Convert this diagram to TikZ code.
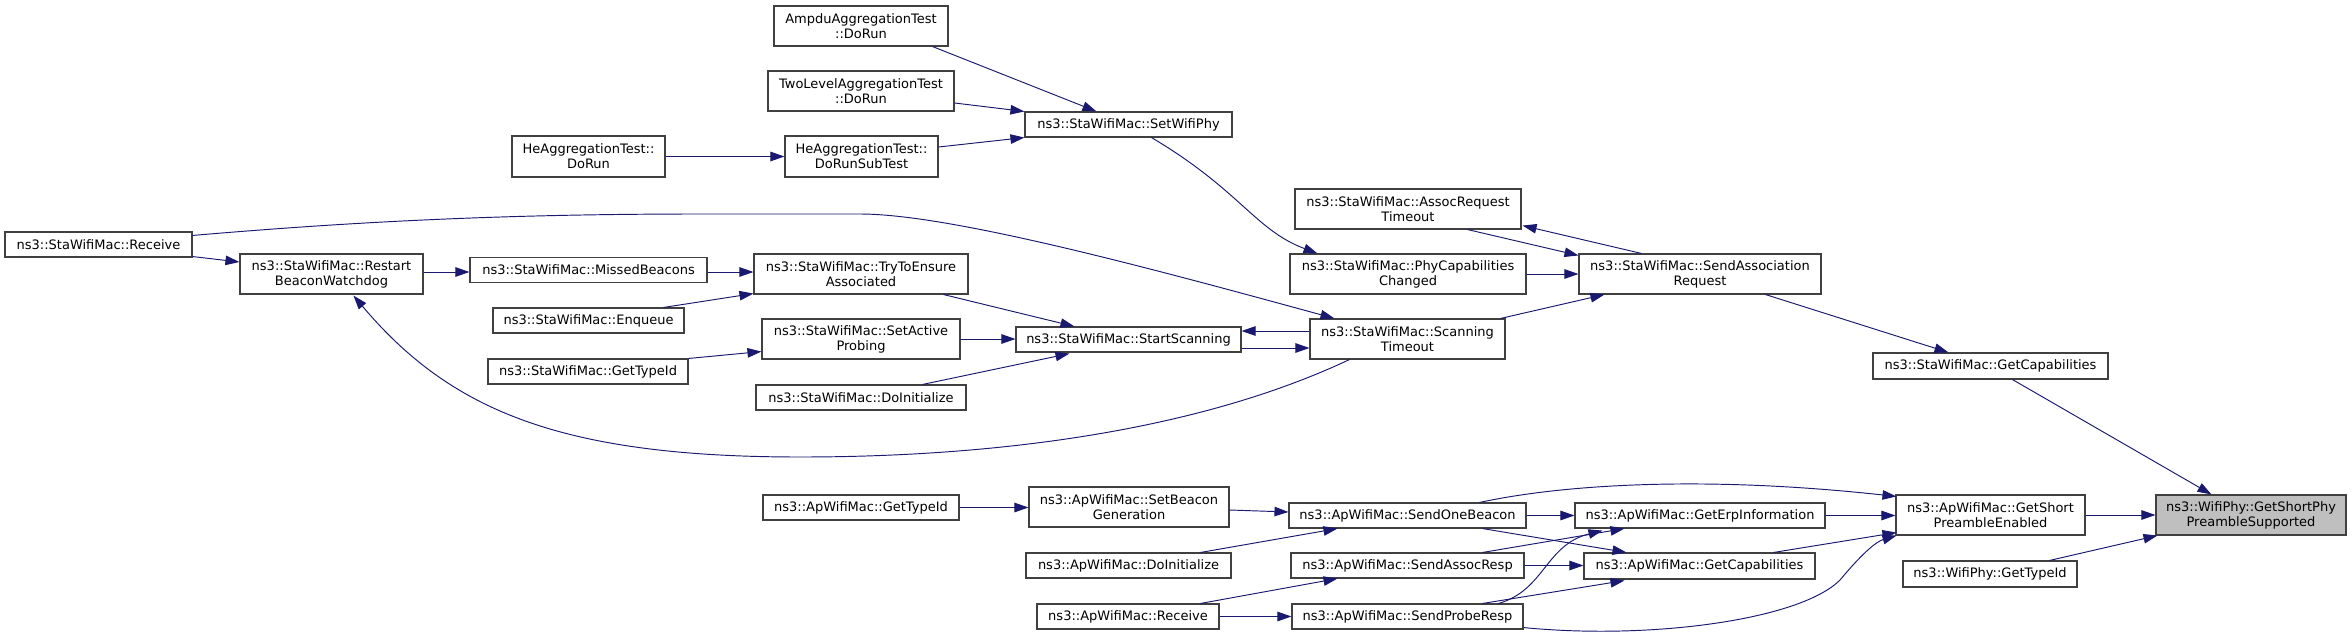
\documentclass[tikz,border=0pt]{standalone}
\usepackage{fontspec}
\setmainfont{DejaVu Sans}
\usetikzlibrary{arrows.meta,calc}
\definecolor{edgeblue}{HTML}{191970}
\definecolor{boxline}{HTML}{404040}
\definecolor{targetfill}{HTML}{BFBFBF}
\begin{document}
\begin{tikzpicture}[x=1pt,y=-1pt,
  fn/.style={draw=boxline, line width=1.1pt, fill=white, inner sep=0pt, align=center,
    font=\fontsize{13}{15}\selectfont, text=black},
  one/.style={fn, minimum width=#1, minimum height=25pt},
  two/.style={fn, minimum width=#1, minimum height=40pt},
  e/.style={draw=edgeblue, line width=0.95pt, -{Triangle[length=14pt,width=9.5pt]}}]
\fill[white] (0,0) rectangle (2352,637);
\useasboundingbox (0,0) rectangle (2352,637);

% column A
\node[one=187pt] (A1) at (98.5,244.5) {ns3::StaWifiMac::Receive};
\node[two=183pt] (A2) at (331.5,274) {ns3::StaWifiMac::Restart\\BeaconWatchdog};
\node[one=237pt] (A3) at (588.5,270) {ns3::StaWifiMac::MissedBeacons};
\node[one=191pt] (A4) at (588.5,320.5) {ns3::StaWifiMac::Enqueue};
\node[one=200pt] (A5) at (588,371.5) {ns3::StaWifiMac::GetTypeId};
\node[two=153pt, minimum height=41pt] (A6) at (588.5,156.5) {HeAggregationTest::\\DoRun};
% column B
\node[two=174pt] (B1) at (861,26) {AmpduAggregationTest\\::DoRun};
\node[two=186pt] (B2) at (861,91) {TwoLevelAggregationTest\\::DoRun};
\node[two=153pt, minimum height=41pt] (B3) at (861.5,156.5) {HeAggregationTest::\\DoRunSubTest};
\node[two=214pt] (B4) at (861,274) {ns3::StaWifiMac::TryToEnsure\\Associated};
\node[two=198pt] (B5) at (861,339) {ns3::StaWifiMac::SetActive\\Probing};
\node[one=210pt] (B6) at (861,397.5) {ns3::StaWifiMac::DoInitialize};
\node[one=196pt] (B7) at (861,507.5) {ns3::ApWifiMac::GetTypeId};
% column C
\node[one=207pt] (C1) at (1128.5,124.5) {ns3::StaWifiMac::SetWifiPhy};
\node[one=225pt] (C2) at (1128.5,339.5) {ns3::StaWifiMac::StartScanning};
\node[two=200pt] (C3) at (1129,507) {ns3::ApWifiMac::SetBeacon\\Generation};
\node[one=205pt] (C4) at (1128.5,565.5) {ns3::ApWifiMac::DoInitialize};
\node[one=182pt] (C5) at (1128,616.5) {ns3::ApWifiMac::Receive};
% column D
\node[two=226pt] (D1) at (1408,209) {ns3::StaWifiMac::AssocRequest\\Timeout};
\node[two=236pt] (D2) at (1408,274) {ns3::StaWifiMac::PhyCapabilities\\Changed};
\node[two=195pt] (D3) at (1407.5,339) {ns3::StaWifiMac::Scanning\\Timeout};
\node[one=237pt] (D4) at (1407.5,515.5) {ns3::ApWifiMac::SendOneBeacon};
\node[one=233pt] (D5) at (1407.5,565.5) {ns3::ApWifiMac::SendAssocResp};
\node[one=231pt] (D6) at (1407.5,616.5) {ns3::ApWifiMac::SendProbeResp};
% column E
\node[two=242pt] (E1) at (1700,274) {ns3::StaWifiMac::SendAssociation\\Request};
\node[one=250pt] (E2) at (1700,515.5) {ns3::ApWifiMac::GetErpInformation};
\node[one=231pt, minimum height=26pt] (E3) at (1699.5,566) {ns3::ApWifiMac::GetCapabilities};
% column F
\node[one=235pt, minimum height=26pt] (F1) at (1990.5,366) {ns3::StaWifiMac::GetCapabilities};
\node[two=189pt] (F2) at (1990.5,515) {ns3::ApWifiMac::GetShort\\PreambleEnabled};
\node[one=174pt, minimum height=26pt] (F3) at (1990,574) {ns3::WifiPhy::GetTypeId};
% target
\node[two=190pt, fill=targetfill] (G1) at (2251,515) {ns3::WifiPhy::GetShortPhy\\PreambleSupported};

% edges: Sta side
\draw[e] ($(A1.north east)+(0,4)$) .. controls (350,222) and (500,214) .. (700,214)
   -- (860,214) .. controls (950,214) and (1150,268) .. ($(D3.north west)+(25,0)$);
\draw[e] ($(A1.south east)+(0,-1)$) -- ($(A2.west)+(0,-12)$);
\draw[e] ($(A2.east)+(0,-2)$) -- ($(A3.west)+(0,2)$);
\draw[e] ($(A3.east)+(0,2)$) -- ($(B4.west)+(0,-2)$);
\draw[e] ($(A4.north east)+(-21,0)$) -- ($(B4.south west)+(0,-1)$);
\draw[e] (A5.north east) -- ($(B5.south west)+(0,-8)$);
\draw[e] (A6.east) -- (B3.west);
\draw[e] ($(B1.south east)+(-16,0)$) -- ($(C1.north west)+(72,0)$);
\draw[e] ($(B2.east)+(0,12)$) -- (C1.north west);
\draw[e] ($(B3.east)+(0,-9.5)$) -- (C1.south west);
\draw[e] ($(B4.south east)+(-25,0)$) -- ($(C2.north west)+(59,0)$);
\draw[e] (B5.east) -- ($(C2.west)+(0,-0.5)$);
\draw[e] ($(B6.north east)+(-44,0)$) -- ($(C2.south west)+(54,1)$);
\draw[e] ($(C2.east)+(0,8.5)$) -- ($(D3.west)+(0,9)$);
\draw[e] ($(D3.west)+(0,-8)$) -- ($(C2.east)+(0,-8.5)$);
\draw[e] ($(D3.south west)+(40,0)$) .. controls (1200,430) and (1000,457) .. (800,457)
   .. controls (560,457) and (450,410) .. ($(A2.south west)+(114,1)$);
\draw[e] ($(D3.north east)+(-5,0)$) -- ($(E1.south west)+(26,0)$);
\draw[e] ($(C1.south west)+(127,0)$) .. controls (1240,190) and (1255,230) .. ($(D2.north west)+(28,0)$);
\draw[e] ($(D1.south east)+(-54,0)$) -- ($(E1.north west)+(0,2)$);
\draw[e] ($(E1.north west)+(63,0)$) -- ($(D1.south east)+(1,-4)$);
\draw[e] (D2.east) -- (E1.west);
\draw[e] ($(E1.south east)+(-56,0)$) -- ($(F1.north west)+(76,0)$);
\draw[e] ($(F1.south west)+(140,0)$) -- ($(G1.north west)+(56,0)$);

% edges: Ap side
\draw[e] (B7.east) -- ($(C3.west)+(0,0.5)$);
\draw[e] ($(C3.east)+(0,3)$) -- ($(D4.west)+(0,-3.5)$);
\draw[e] ($(C4.north east)+(-31,0)$) -- ($(D4.south west)+(49,0)$);
\draw[e] ($(C5.north east)+(-19,0)$) -- ($(D5.south west)+(47,0)$);
\draw[e] (C5.east) -- (D6.west);
\draw[e] (D4.east) -- (E2.west);
\draw[e] ($(D4.south east)+(-44,0)$) -- ($(E3.north west)+(43,0)$);
\draw[e] ($(D4.north east)+(-47,0)$) .. controls (1560,485) and (1700,475) .. ($(F2.north west)+(1,2)$);
\draw[e] ($(D5.north east)+(-42,0)$) -- ($(E2.south west)+(50,0)$);
\draw[e] (D5.east) -- ($(E3.west)+(0,-0.5)$);
\draw[e] ($(D6.north east)+(-25,0)$) .. controls (1545,590) and (1545,545) .. ($(E2.south west)+(28,2)$);
\draw[e] ($(D6.north east)+(-41,0)$) -- ($(E3.south west)+(41,1)$);
\draw[e] ($(D6.south east)+(0,-2)$) .. controls (1650,640) and (1800,620) .. (1840,580)
   .. controls (1860,556) and (1875,542) .. ($(F2.south west)+(1,0)$);
\draw[e] (E2.east) -- ($(F2.west)+(0,0.5)$);
\draw[e] ($(E3.north east)+(-42,0)$) -- ($(F2.south west)+(1,-3)$);
\draw[e] (F2.east) -- (G1.west);
\draw[e] ($(F3.north east)+(-28,0)$) -- ($(G1.south west)+(2,0)$);
\end{tikzpicture}
\end{document}
